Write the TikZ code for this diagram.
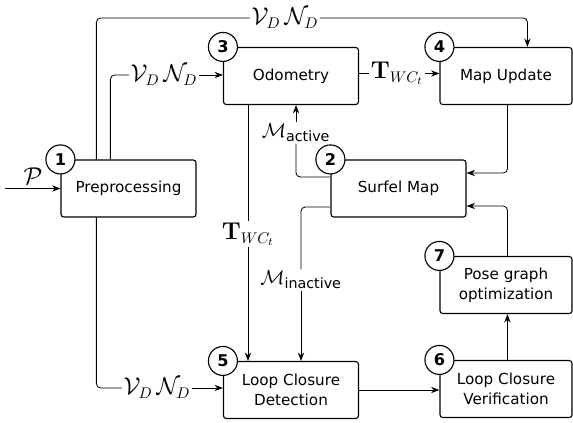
\documentclass[tikz,border=0pt]{standalone}
\usepackage{amsmath}
\usepackage[no-math]{fontspec}
\setmainfont{DejaVu Sans}
\usetikzlibrary{arrows.meta,calc,positioning}

\begin{document}
\begin{tikzpicture}[x=0.025cm,y=-0.025cm,
    block/.style={draw, line width=0.8pt, rounded corners=2pt, minimum width=3.375cm, minimum height=1.425cm, align=center, font=\fontsize{10.8}{14.5}\selectfont},
    stage/.style={draw, circle, fill=white, line width=0.8pt, minimum size=0.725cm, inner sep=0pt, font=\fontsize{11.5}{12}\selectfont\bfseries},
    link/.style={line width=0.6pt, rounded corners=3pt},
    flow/.style={link, -{Stealth[length=6pt,width=4.5pt,inset=2pt]}},
    lbl/.style={inner sep=1pt, font=\fontsize{16}{18}\selectfont}]

      % Canvas
      \useasboundingbox (0,0) rectangle (573,422);

      % Processing blocks
      \node[block] (pre) at (128.5,188.5) {Preprocessing};
      \node[block] (odo) at (291,76) {Odometry};
      \node[block, minimum width=3.3cm] (upd) at (506,76) {Map Update};
      \node[block] (surf) at (398.5,188.5) {Surfel Map};
      \node[block, minimum width=3.3cm] (pgo) at (506,285) {Pose graph\\optimization};
      \node[block] (lcd) at (291,390) {Loop Closure\\Detection};
      \node[block, minimum width=3.3cm] (lcv) at (506,389) {Loop Closure\\Verification};

      % Data labels
      \coordinate (src) at (5,188.5);
      \node[lbl] (pin) at (33,176) {$\mathcal{P}$};
      \node[lbl] (vnA) at (285,18) {$\mathcal{V}_D\,\mathcal{N}_D$};
      \node[lbl] (vnB) at (164,75) {$\mathcal{V}_D\,\mathcal{N}_D$};
      \node[lbl] (vnC) at (157,388) {$\mathcal{V}_D\,\mathcal{N}_D$};
      \node[lbl] (tA) at (397,73.5) {$\mathbf{T}_{WC_t}$};
      \node[lbl] (tB) at (248,234) {$\mathbf{T}_{WC_t}$};
      \node[lbl, font=\fontsize{14.5}{17}\selectfont] (mA) at (296,133) {$\mathcal{M}_{\text{active}}$};
      \node[lbl, font=\fontsize{14.5}{17}\selectfont] (mB) at (301,280) {$\mathcal{M}_{\text{inactive}}$};

      % Input
      \draw[flow] (src) -- (src -| pre.west);

      % Preprocessing outputs
      \draw[link] ($(pre.north west)+(36,0)$) |- (vnA.west);
      \draw[flow] (vnA.east) -| ($(upd.north west)+(88,0)$);
      \draw[link] ($(pre.north west)+(50,0)$) |- (vnB.west);
      \draw[flow] (vnB.east) -- (vnB.east -| odo.west);
      \draw[link] ($(pre.south west)+(36,0)$) |- (vnC.west);
      \draw[flow] (vnC.east) -- (vnC.east -| lcd.west);

      % Pose from odometry
      \draw[link] (tA.west -| odo.east) -- (tA.west);
      \draw[flow] (tA.east) -- (tA.east -| upd.west);
      \draw[link] (tB.north |- odo.south) -- (tB.north);
      \draw[flow] (tB.south) -- (tB.south |- lcd.north);

      % Surfel map outputs
      \draw[link] ($(surf.west)+(0,-11.5)$) -| (mA.south);
      \draw[flow] (mA.north) -- (mA.north |- odo.south);
      \draw[link] ($(surf.west)+(0,18.5)$) -| (mB.north);
      \draw[flow] (mB.south) -- (mB.south |- lcd.north);

      % Map updates and loop closure
      \draw[flow] ($(upd.south west)+(68,0)$) |- ($(surf.east)+(0,-15.5)$);
      \draw[flow] ($(pgo.north west)+(68,0)$) |- ($(surf.east)+(0,17.5)$);
      \draw[flow] (lcd.east) -- (lcd.east -| lcv.west);
      \draw[flow] ($(lcv.north west)+(68,0)$) -- ($(pgo.south west)+(68,0)$);

      % Stage numbers
      \foreach \b/\n in {pre/1, surf/2, odo/3, upd/4, lcd/5, lcv/6, pgo/7} {
          \node[stage] (s\n) at (\b.north west) {\n};
      }

\end{tikzpicture}
\end{document}
